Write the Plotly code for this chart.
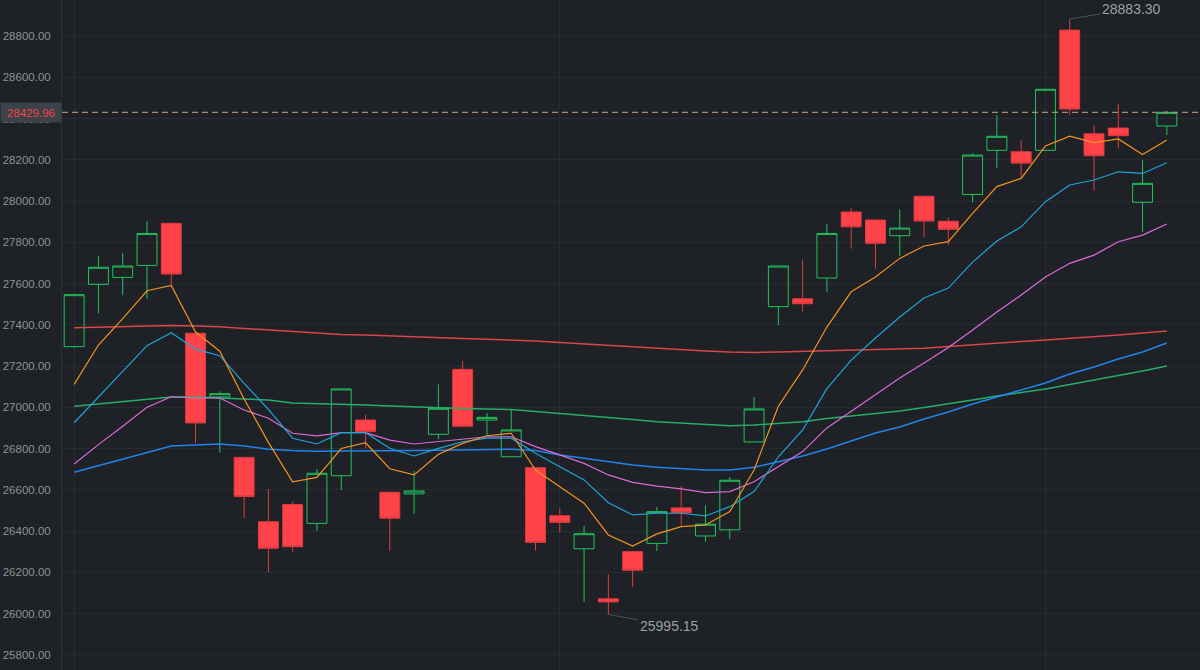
import plotly.graph_objects as go

# ---- data ----
days = [f"D{i+1}" for i in range(46)]

opens = [27294, 27596, 27630, 27688, 27892, 27359, 27050, 26757, 26445, 26528,
         26437, 26668, 26938, 26588, 26580, 26869, 27184, 26938, 26760, 26707,
         26474, 26314, 26071, 26300, 26340, 26512, 26376, 26406, 26832, 27488,
         27526, 27627, 27947, 27908, 27832, 28023, 27902, 28032, 28246, 28239,
         28246, 28829, 28326, 28354, 27994, 28364]
closes = [27546, 27679, 27685, 27843, 27646, 26924, 27066, 26567, 26316, 26324,
          26680, 27089, 26882, 26462, 26594, 26995, 26908, 26951, 26890, 26345,
          26442, 26387, 26056, 26210, 26494, 26489, 26433, 26646, 26992, 27685,
          27502, 27843, 27875, 27795, 27869, 27903, 27863, 28223, 28314, 28184,
          28542, 28446, 28220, 28317, 28086, 28429.96]
highs = [27550, 27733, 27749, 27902, 27895, 27362, 27077, 26760, 26602, 26542,
         26701, 27092, 26963, 26590, 26691, 27111, 27224, 26972, 26990, 26710,
         26510, 26424, 26190, 26303, 26517, 26618, 26525, 26661, 27050, 27688,
         27717, 27890, 27966, 27910, 27958, 28025, 27921, 28231, 28417, 28296,
         28545, 28883.30, 28368, 28470, 28199, 28438]
lows = [27288, 27456, 27543, 27526, 27593, 26825, 26780, 26462, 26200, 26298,
        26400, 26599, 26799, 26303, 26483, 26846, 26905, 26866, 26757, 26305,
        26392, 26057, 25995.15, 26130, 26303, 26426, 26348, 26360, 26830, 27399,
        27465, 27559, 27769, 27672, 27733, 27824, 27788, 27995, 28159, 28115,
        28243, 28418, 28050, 28255, 27851, 28320]

ma5 = [27111, 27302, 27430, 27565, 27591, 27365, 27272, 27040, 26830, 26639,
       26660, 26800, 26828, 26702, 26672, 26772, 26825, 26862, 26874, 26696,
       26615, 26535, 26381, 26327, 26386, 26421, 26429, 26494, 26696, 27005,
       27181, 27389, 27560, 27632, 27722, 27782, 27803, 27940, 28070, 28110,
       28267, 28315, 28283, 28301, 28226, 28296]
ma10 = [26925, 27050, 27173, 27299, 27362, 27282, 27250, 27116, 26990, 26850,
        26822, 26877, 26877, 26801, 26764, 26801, 26833, 26850, 26850, 26777,
        26712, 26648, 26537, 26478, 26486, 26486, 26473, 26518, 26591, 26760,
        26890, 27090, 27229, 27336, 27438, 27530, 27578, 27704, 27806, 27875,
        27997, 28078, 28102, 28142, 28134, 28186]
ma20 = [26725, 26819, 26908, 27000, 27051, 27045, 27045, 26987, 26947, 26874,
        26861, 26877, 26877, 26841, 26822, 26833, 26845, 26857, 26857, 26809,
        26769, 26728, 26672, 26636, 26618, 26604, 26586, 26591, 26639, 26712,
        26785, 26900, 26982, 27060, 27142, 27215, 27290, 27375, 27462, 27544,
        27632, 27698, 27738, 27803, 27835, 27889]
ma30 = [26685, 26717, 26748, 26779, 26812, 26817, 26822, 26812, 26797, 26790,
        26787, 26788, 26788, 26788, 26790, 26792, 26793, 26795, 26797, 26790,
        26769, 26753, 26736, 26720, 26709, 26704, 26696, 26696, 26709, 26736,
        26764, 26798, 26837, 26875, 26904, 26943, 26977, 27016, 27050, 27084,
        27118, 27161, 27195, 27234, 27268, 27312]
ma60 = [27005, 27016, 27026, 27038, 27050, 27050, 27045, 27043, 27035, 27021,
        27018, 27016, 27011, 27006, 27001, 26997, 26994, 26992, 26989, 26979,
        26970, 26960, 26950, 26941, 26930, 26924, 26918, 26911, 26914, 26921,
        26930, 26946, 26958, 26970, 26982, 26999, 27016, 27035, 27055, 27072,
        27089, 27111, 27132, 27154, 27176, 27200]
ma120 = [27386, 27389, 27391, 27395, 27396, 27394, 27391, 27382, 27375, 27367,
         27358, 27353, 27350, 27345, 27340, 27335, 27333, 27330, 27326, 27321,
         27314, 27307, 27300, 27292, 27285, 27278, 27273, 27268, 27266, 27268,
         27271, 27274, 27278, 27281, 27284, 27286, 27295, 27304, 27312, 27319,
         27326, 27333, 27340, 27350, 27360, 27370]

last_price = 28429.96
max_label = "28883.30"
min_label = "25995.15"
y_ticks = [25800, 26000, 26200, 26400, 26600, 26800, 27000, 27200, 27400,
           27600, 27800, 28000, 28200, 28400, 28600, 28800]

# ---- styling ----
BG = "#1e2125"
GRID = "#282c31"
GREEN = "#22c35e"
RED_FILL = "#ff4349"
RED_LINE = "#e23b41"
FONT = "Liberation Sans, Arial, sans-serif"

x = list(range(len(days)))

fig = go.Figure()
fig.add_trace(go.Candlestick(
    x=x, open=opens, high=highs, low=lows, close=closes,
    increasing=dict(line=dict(color=GREEN, width=1), fillcolor="rgba(0,0,0,0)"),
    decreasing=dict(line=dict(color=RED_LINE, width=1), fillcolor=RED_FILL),
    whiskerwidth=0, hoverinfo="skip", showlegend=False,
))

ma_specs = [
    (ma120, "#d9474b", 1.5),
    (ma60, "#27ad6a", 1.5),
    (ma30, "#2184ec", 1.5),
    (ma20, "#dc6ad8", 1.2),
    (ma10, "#1ea5dc", 1.2),
    (ma5, "#f5921e", 1.2),
]
for vals, col, w in ma_specs:
    fig.add_trace(go.Scatter(x=x, y=vals, mode="lines",
                             line=dict(color=col, width=w),
                             hoverinfo="skip", showlegend=False))

# last price dashed line
fig.add_shape(type="line", xref="paper", x0=0, x1=1, yref="y",
              y0=last_price, y1=last_price,
              line=dict(color="#9e8c78", width=1.2, dash="6px,4px"))

# last price label box
fig.add_annotation(xref="paper", x=0, xanchor="right", yref="y", y=last_price,
                   yanchor="middle", text=f"{last_price:.2f}", showarrow=False,
                   font=dict(color="#f0434a", size=11.5, family=FONT),
                   bgcolor="#3b424a", width=58, height=17, borderpad=1,
                   align="center")

# max / min markers
i_max = highs.index(max(highs))
i_min = lows.index(min(lows))
fig.add_annotation(x=i_max, y=highs[i_max], text=max_label, showarrow=True,
                   arrowhead=0, arrowwidth=1, arrowcolor="#4b5056",
                   ax=62, ay=-10, font=dict(color="#9aa0a7", size=14, family=FONT))
fig.add_annotation(x=i_min, y=lows[i_min], text=min_label, showarrow=True,
                   arrowhead=0, arrowwidth=1, arrowcolor="#4b5056",
                   ax=61, ay=11, font=dict(color="#9aa0a7", size=14, family=FONT))

band = 1117.0 / 46  # px per category
fig.update_layout(
    width=1200, height=670,
    margin=dict(l=62, r=0, t=0, b=0),
    paper_bgcolor=BG, plot_bgcolor=BG,
    boxgap=0.18, boxgroupgap=0,
    font=dict(family=FONT),
    hovermode=False,
    xaxis=dict(range=[-0.5, 45.5 + 21 / band], rangeslider=dict(visible=False),
               showticklabels=False, tickvals=[0, 20, 40], showgrid=True,
               gridcolor=GRID, gridwidth=1, zeroline=False, showline=False,
               ticks=""),
    yaxis=dict(range=[25726, 28975], tickvals=y_ticks, tickformat=".2f",
               showgrid=True, gridcolor=GRID, gridwidth=1, zeroline=False,
               showline=True, linecolor="#2c3137", linewidth=1, ticks="",
               ticklabelstandoff=8,
               tickfont=dict(color="#8b9199", size=11.5, family=FONT)),
)

fig.write_html("out.html")
